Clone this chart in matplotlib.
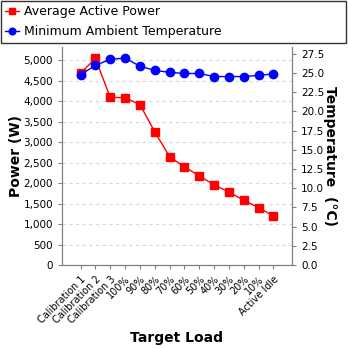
import matplotlib
matplotlib.use("Agg")
import matplotlib.pyplot as plt
from matplotlib.ticker import FuncFormatter, MultipleLocator

# values
loads = ["Calibration 1", "Calibration 2", "Calibration 3", "100%", "90%", "80%",
         "70%", "60%", "50%", "40%", "30%", "20%", "10%", "Active Idle"]
power_w = [4680, 5040, 4090, 4085, 3915, 3250, 2645, 2395, 2175, 1955,
           1780, 1580, 1400, 1195]
temp_c = [24.8, 26.0, 26.8, 26.95, 25.9, 25.35, 25.1, 24.95, 24.95, 24.55,
          24.55, 24.55, 24.7, 24.9]

fig = plt.figure(figsize=(3.48, 3.48), dpi=100)
ax = fig.add_axes([62 / 348, 1 - 265 / 348, 230 / 348, 218 / 348])
ax2 = ax.twinx()

x = list(range(len(loads)))
ax.plot(x, power_w, color="red", marker="s", markersize=6, lw=1,
        label="Average Active Power", zorder=3)
ax2.plot(x, temp_c, color="blue", marker="o", markersize=6, lw=1,
         label="Minimum Ambient Temperature", zorder=3)

ax.set_xlim(-1.25, len(loads) - 1 + 1.25)
ax.set_ylim(0, 5320)
ax2.set_ylim(0, 28.4)
ax.yaxis.set_major_locator(MultipleLocator(500))
ax2.yaxis.set_major_locator(MultipleLocator(2.5))
ax.yaxis.set_major_formatter(FuncFormatter(lambda v, p: f"{int(v):,}"))
ax.grid(axis="y", color="#d9d9d9", ls=(0, (3, 3)), lw=0.8)
ax.set_axisbelow(True)

ax.set_xticks(x)
ax.set_xticklabels(loads, rotation=45, ha="right", rotation_mode="anchor", fontsize=7)
for a in (ax, ax2):
    a.tick_params(labelsize=7.5, color="#808080", length=3)
    for s in a.spines.values():
        s.set_color("#808080")
ax.tick_params(axis="x", labelsize=7)
ax2.spines["top"].set_visible(False)
ax.spines["top"].set_visible(False)

ax.set_ylabel("Power (W)", fontsize=10, fontweight="bold", labelpad=0)
ax2.set_ylabel("Temperature  (°C)", fontsize=10, fontweight="bold", rotation=270, labelpad=9)
ax.set_xlabel("Target Load", fontsize=10, fontweight="bold", labelpad=4)

h1, l1 = ax.get_legend_handles_labels()
h2, l2 = ax2.get_legend_handles_labels()
leg = fig.legend(h1 + h2, l1 + l2, loc="upper left",
                 bbox_to_anchor=(1 / 348, 1 - 42 / 348, 345 / 348, 41 / 348),
                 mode="expand", fontsize=9, frameon=True, fancybox=False, borderaxespad=0,
                 handlelength=1.1, handletextpad=0.4, borderpad=0.35, labelspacing=0.55,
                 markerscale=0.8)
leg.get_frame().set_edgecolor("black")
leg.get_frame().set_linewidth(1)

fig.savefig("out.png", dpi=100)
